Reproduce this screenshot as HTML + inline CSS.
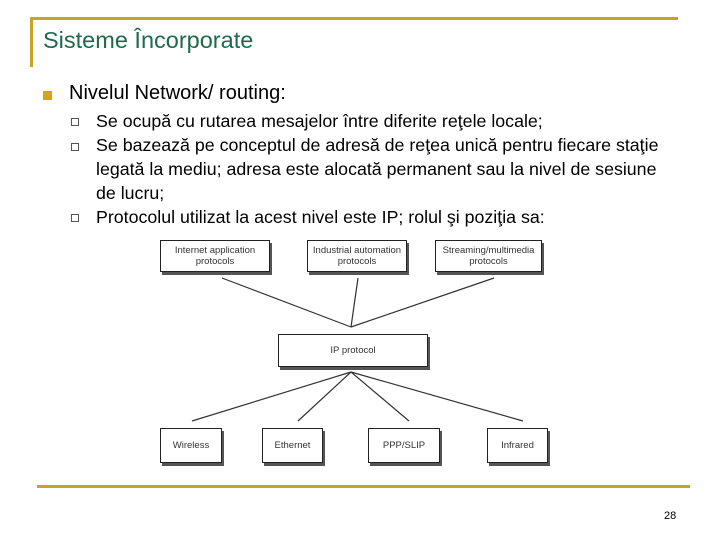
<!DOCTYPE html>
<html><head><meta charset="utf-8"><style>
body{margin:0;width:720px;height:540px;background:#fff;position:relative;overflow:hidden;font-family:"Liberation Sans",sans-serif}
.a{position:absolute}
.t{left:43px;top:27px;font-size:23.5px;color:#1f6a4c}
.l1{left:69px;top:82px;font-size:20px;color:#000}
.sub{left:96px;font-size:17.8px;color:#000;line-height:24px;white-space:nowrap}
.bx{position:absolute;background:#fff;border:1.5px solid #222;box-shadow:2px 3px 0 #555;font-size:9.5px;color:#333;text-align:center;display:flex;align-items:center;justify-content:center;line-height:11px}
.q{position:absolute;left:71px;width:6px;height:6px;border:1px solid #555;background:#fff}
</style></head><body>
<div class="a" style="left:30px;top:17px;width:648px;height:3px;background:#c9a227"></div>
<div class="a" style="left:30px;top:17px;width:3px;height:50px;background:#c9a227"></div>
<div class="a" style="left:37px;top:485px;width:653px;height:3px;background:#c9a227"></div>
<div class="a t">Sisteme Încorporate</div>
<div class="a" style="left:43px;top:91px;width:9px;height:9px;background:#d9a21c"></div>
<div class="a l1">Nivelul Network/ routing:</div>
<div class="q" style="top:118px"></div>
<div class="q" style="top:143px"></div>
<div class="q" style="top:214px"></div>
<div class="a sub" style="top:109px">Se ocupă cu rutarea mesajelor între diferite reţele locale;<br>Se bazează pe conceptul de adresă de reţea unică pentru fiecare staţie<br>legată la mediu; adresa este alocată permanent sau la nivel de sesiune<br>de lucru;<br>Protocolul utilizat la acest nivel este IP; rolul şi poziţia sa:</div>
<svg class="a" style="left:0;top:0" width="720" height="540"><g stroke="#333" stroke-width="1.2">
<line x1="222" y1="278" x2="351" y2="327"/><line x1="358" y1="278" x2="351" y2="327"/><line x1="494" y1="278" x2="351" y2="327"/>
<line x1="351" y1="372" x2="192" y2="421"/><line x1="351" y1="372" x2="298" y2="421"/><line x1="351" y1="372" x2="409" y2="421"/><line x1="351" y1="372" x2="523" y2="421"/></g></svg>
<div class="bx" style="left:160px;top:240px;width:108px;height:30px">Internet application<br>protocols</div>
<div class="bx" style="left:307px;top:240px;width:98px;height:30px">Industrial automation<br>protocols</div>
<div class="bx" style="left:435px;top:240px;width:105px;height:30px">Streaming/multimedia<br>protocols</div>
<div class="bx" style="left:278px;top:334px;width:148px;height:31px">IP protocol</div>
<div class="bx" style="left:160px;top:428px;width:60px;height:33px">Wireless</div>
<div class="bx" style="left:262px;top:428px;width:59px;height:33px">Ethernet</div>
<div class="bx" style="left:368px;top:428px;width:70px;height:33px">PPP/SLIP</div>
<div class="bx" style="left:487px;top:428px;width:59px;height:33px">Infrared</div>
<div class="a" style="left:664px;top:510px;font-size:11px">28</div>
</body></html>
